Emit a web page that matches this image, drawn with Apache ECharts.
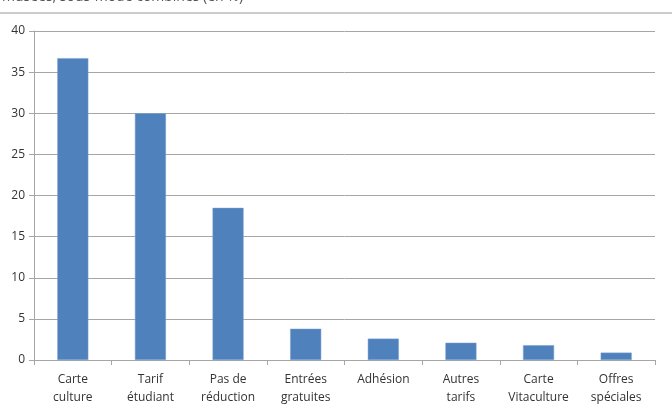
<!DOCTYPE html>
<html>
<head>
<meta charset="utf-8">
<script src="https://cdn.jsdelivr.net/npm/echarts@6/dist/echarts.min.js"></script>
<style>
  html, body { margin: 0; padding: 0; background: #fff; }
  #chart { width: 672px; height: 411px; }
</style>
</head>
<body>
<div id="chart"></div>
<script>
const categories = ["Carte\nculture", "Tarif\nétudiant", "Pas de\nréduction", "Entrées\ngratuites",
    "Adhésion", "Autres\ntarifs", "Carte\nVitaculture", "Offres\nspéciales"];
const values = [36.7, 30.0, 18.5, 3.8, 2.6, 2.1, 1.8, 0.9];
const titleText = "musées, sous-mode combinés (en %)";

const chart = echarts.init(document.querySelector("#chart"), null, { renderer: "canvas" });

chart.setOption({
    animation: false,
    textStyle: { fontFamily: "Open Sans" },
    graphic: [
        {
            type: "text", left: 2, top: -10,
            style: { text: titleText, fontSize: 14, fill: "#555", fontFamily: "Open Sans" }
        },
        {
            type: "line", shape: { x1: 0, y1: 13, x2: 672, y2: 13 },
            style: { stroke: "#bbb", lineWidth: 1.5 }
        }
    ],
    grid: { left: 34, right: 17, top: 31, bottom: 51 },
    xAxis: {
        type: "category",
        data: categories,
        axisLine: { lineStyle: { color: "#a6a6a6", width: 1 } },
        axisTick: { show: true, length: 5, lineStyle: { color: "#a6a6a6" } },
        axisLabel: { color: "#333", fontSize: 12, lineHeight: 18, margin: 11, interval: 0 }
    },
    yAxis: {
        type: "value",
        min: 0, max: 40, interval: 5,
        axisLine: { show: true, lineStyle: { color: "#a6a6a6" } },
        axisTick: { show: true, length: 5, lineStyle: { color: "#a6a6a6" } },
        axisLabel: { color: "#333", fontSize: 12, margin: 9 },
        splitLine: { lineStyle: { color: "#a6a6a6" } }
    },
    series: [{
        type: "bar",
        data: values,
        barWidth: "40%",
        itemStyle: { color: "#4f81bd", borderColor: "#7fa3d3", borderWidth: 0.5 }
    }]
});
</script>
</body>
</html>
